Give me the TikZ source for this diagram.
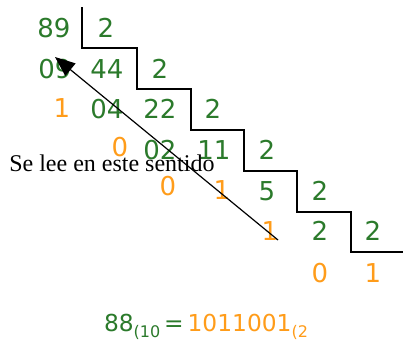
\documentclass[tikz,border=0pt]{standalone}
\usepackage{fontspec}
\setmainfont{Liberation Serif}
\newfontfamily\numfont{DejaVu Sans}
\usetikzlibrary{arrows.meta}
\definecolor{DivG}{HTML}{2B7A2B}
\definecolor{RemO}{HTML}{FF9C1A}
\tikzset{
  qnum/.style={
    text=DivG, font=\numfont\fontsize{19.5}{22}\selectfont,
    inner sep=0pt,
  },
  rnum/.style={
    text=RemO, font=\numfont\fontsize{19.5}{22}\selectfont,
    inner sep=0pt,
  },
  stair/.style={
    draw=black, line width=2.2pt,
  },
  readarr/.style={
    -{Triangle[length=15pt,width=12pt]},
    line width=0.9pt, color=black,
  },
}
\begin{document}
\begin{tikzpicture}[x=0.75pt,y=-0.75pt]
    \useasboundingbox (0,0) rectangle (403,347);
    % cocientes y divisores
    \foreach \n/\t/\x/\y in {q1/89/54/28, d1/2/106/28,
                             q2/09/55/69, q3/44/107/69, d2/2/160/69,
                             q4/04/107/109, q5/22/160/109, d3/2/213/109,
                             q6/02/160/150, q7/11/214/150, d4/2/267/150,
                             q8/5/267/191, d5/2/320/191,
                             q9/2/320/231, d6/2/373/231}{
      \node[qnum] (\n) at (\x,\y) {\t};
    }
    % restos
    \foreach \n/\t/\x/\y in {r1/1/62/108, r2/0/120/147, r3/0/168/186,
                             r4/1/222/190, r5/1/270/231, r6/0/320/273,
                             r7/1/373/273}{
      \node[rnum] (\n) at (\x,\y) {\t};
    }
    \draw[stair] (82,7) -- (82,48) -- (137,48) -- (137,89) -- (191,89)
      -- (191,130) -- (244,130) -- (244,171) -- (297,171) -- (297,212)
      -- (351,212) -- (351,252) -- (403,252);
    \node[anchor=west, font=\fontsize{18}{20}\selectfont, inner sep=0pt] (lee) at (9,163) {Se lee en este sentido};
    \coordinate (from) at (278,240);
    \coordinate (to) at (55,57);
    \draw[readarr] (from) -- (to);
    \node[font=\numfont\fontsize{17.5}{20}\selectfont, inner sep=0pt] (res) at (206,327)
      {\color{DivG}88\raisebox{-4pt}{\fontsize{12}{14}\selectfont(10}\,=\,\color{RemO}1011001\raisebox{-4pt}{\fontsize{12}{14}\selectfont(2}};
\end{tikzpicture}
\end{document}
